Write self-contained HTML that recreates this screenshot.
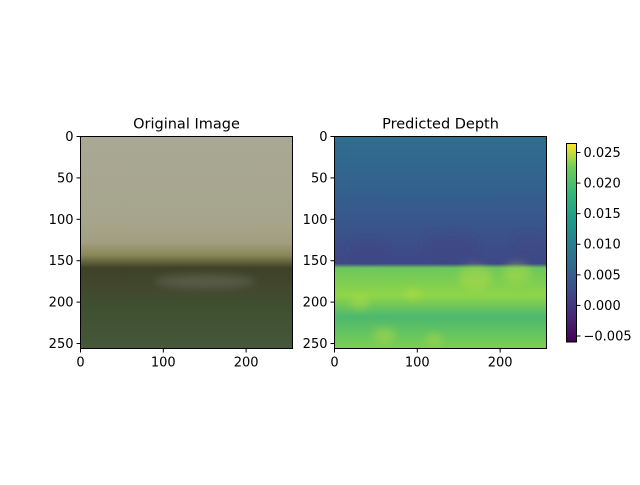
<!DOCTYPE html>
<html><head><meta charset="utf-8"><style>
body{margin:0;background:#fff;}
svg text{font-family:"DejaVu Sans","Liberation Sans",sans-serif;font-size:13px;fill:#000;}
</style></head><body>
<svg id="fig" width="640" height="480" viewBox="0 0 640 480">
<defs>
<linearGradient id="origGrad" x1="0" y1="0" x2="0" y2="1">
<stop offset="0" stop-color="#a9a894"/><stop offset="0.4" stop-color="#a6a58c"/>
<stop offset="0.5" stop-color="#a29e80"/><stop offset="0.56" stop-color="#8a8658"/>
<stop offset="0.62" stop-color="#3e4226"/><stop offset="0.72" stop-color="#42482e"/>
<stop offset="0.8" stop-color="#3f5030"/><stop offset="1" stop-color="#46583a"/>
</linearGradient>
<linearGradient id="depthGrad" x1="0" y1="0" x2="0" y2="1">
<stop offset="0" stop-color="#2e6e8e"/><stop offset="0.25" stop-color="#33618d"/>
<stop offset="0.45" stop-color="#3a538b"/><stop offset="0.6" stop-color="#3f4788"/>
<stop offset="0.62" stop-color="#6cc75c"/><stop offset="0.75" stop-color="#8fd548"/>
<stop offset="0.85" stop-color="#4cb86e"/><stop offset="1" stop-color="#7ccf52"/>
</linearGradient>
<linearGradient id="viridis" x1="0" y1="1" x2="0" y2="0">
<stop offset="0" stop-color="#440154"/><stop offset="0.13" stop-color="#482878"/>
<stop offset="0.25" stop-color="#3e4989"/><stop offset="0.38" stop-color="#31688e"/>
<stop offset="0.5" stop-color="#26828e"/><stop offset="0.63" stop-color="#1f9e89"/>
<stop offset="0.75" stop-color="#35b779"/><stop offset="0.88" stop-color="#6ece58"/>
<stop offset="1" stop-color="#fde725"/>
</linearGradient>
<filter id="blur" x="-50%" y="-50%" width="200%" height="200%"><feGaussianBlur stdDeviation="4"/></filter>
<clipPath id="clip1"><rect x="334.5" y="136.5" width="212" height="212"/></clipPath>
</defs>
<g id="axes"></g>
</svg>
<script>
const xTicks=[0,100,200];
const yTicks=[0,50,100,150,200,250];
const cbTicks=[-0.005,0,0.005,0.01,0.015,0.02,0.025];
const cbTickLabels=["−0.005","0.000","0.005","0.010","0.015","0.020","0.025"];
const cbRange=[-0.00598,0.02647];
const imgSize=256;
const titles=["Original Image","Predicted Depth"];

const NS="http://www.w3.org/2000/svg";
const g=document.getElementById('axes');
function mk(t,a,p){const e=document.createElementNS(NS,t);for(const k in a)e.setAttribute(k,a[k]);(p||g).appendChild(e);return e;}
const panels=[{x:80.5,fill:'url(#origGrad)'},{x:334.5,fill:'url(#depthGrad)'}];
const axTop=136.5,size=212;
panels.forEach((p,i)=>{
  const sx=v=>p.x+v/imgSize*size, sy=v=>axTop+v/imgSize*size;
  const im=mk('rect',{x:p.x,y:axTop,width:size,height:size,fill:p.fill});
  
  
  if(i===1){
    const cg=mk('g',{'clip-path':'url(#clip1)',filter:'url(#blur)'});
    const hl=[[170,170,12],[220,165,10],[95,190,6],[60,240,8],[120,245,6],[30,200,7]];
    hl.forEach(h=>{const c=mk('ellipse',{cx:sx(h[0]),cy:sy(h[1]),rx:h[2]*1.4,ry:h[2],fill:'#c8e03a',opacity:0.35},cg);
      });
    const dk=[[140,130,14],[40,135,10],[235,125,8]];
    dk.forEach(h=>{const c=mk('ellipse',{cx:sx(h[0]),cy:sy(h[1]),rx:h[2]*2,ry:h[2],fill:'#40307a',opacity:0.2},cg);
      });
  } else {
    const pa=mk('ellipse',{cx:sx(150),cy:sy(175),rx:50,ry:7,fill:'#7a7c70',opacity:0.4,filter:'url(#blur)'});
    
  }
  const fr=mk('rect',{x:p.x,y:axTop,width:size,height:size,fill:'none',stroke:'#000','stroke-width':1});
  
  const t=mk('text',{x:p.x+size/2,y:axTop-8,'text-anchor':'middle',style:'font-size:14.5px'});
  t.textContent=titles[i];
  
  xTicks.forEach(v=>{
    const x=sx(v);
    const l=mk('line',{x1:x,x2:x,y1:axTop+size,y2:axTop+size+4,stroke:'#000'});
    
    const tx=mk('text',{x:x,y:axTop+size+18,'text-anchor':'middle'});tx.textContent=v;
    
  });
  yTicks.forEach(v=>{
    const y=sy(v);
    const l=mk('line',{x1:p.x-4,x2:p.x,y1:y,y2:y,stroke:'#000'});
    
    const tx=mk('text',{x:p.x-7,y:y+4.5,'text-anchor':'end'});tx.textContent=v;
    
  });
});
const cbX=566.5,cbTop=143.5,cbH=198.5,cbW=10;
const cy=v=>cbTop+cbH*(cbRange[1]-v)/(cbRange[1]-cbRange[0]);
const cb=mk('rect',{x:cbX,y:cbTop,width:cbW,height:cbH,fill:'url(#viridis)',stroke:'#000','stroke-width':1});

cbTicks.forEach((v,i)=>{
  const y=cy(v);
  const l=mk('line',{x1:cbX+cbW,x2:cbX+cbW+4,y1:y,y2:y,stroke:'#000'});
  
  const tx=mk('text',{x:cbX+cbW+7,y:y+4.5});tx.textContent=cbTickLabels[i];
  
});
</script>
</body></html>
